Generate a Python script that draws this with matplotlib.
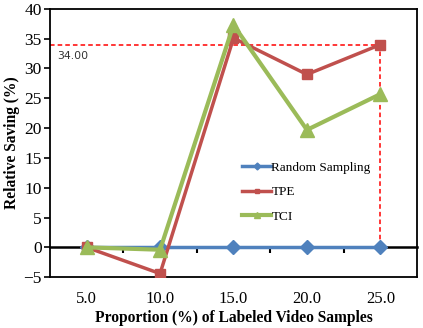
import matplotlib
matplotlib.use("Agg")
from matplotlib import pyplot as plt

# data
proportions = ["5.0", "10.0", "15.0", "20.0", "25.0"]
random_sampling = [0, 0, 0, 0, 0]
tpe = [0, -4.4, 35.1, 29.0, 34.0]
tci = [0, -0.4, 37.3, 19.7, 25.7]
ref_value = 34.0

plt.rcParams['font.family'] = ['Liberation Serif', 'DejaVu Serif']

fig = plt.figure(figsize=(4.23, 3.28), dpi=100)
ax = fig.add_axes([0.118, 0.155, 0.868, 0.818])

x = [i + 0.5 for i in range(len(proportions))]

# dashed reference lines for the TPE value at 25%
ax.plot([0, x[-1]], [ref_value, ref_value], color='red', ls=(0, (3, 2)), lw=1.1, zorder=1.5)
ax.plot([x[-1], x[-1]], [0, ref_value], color='red', ls=(0, (3, 2)), lw=1.1, zorder=1.5)
ax.text(0.1, ref_value - 1.0, "%.2f" % ref_value, fontsize=7.8, family='DejaVu Sans',
        color='#333333', va='top', ha='left')

ax.plot(x, random_sampling, color='#4F81BD', lw=2.5, marker='D', ms=7, label='Random Sampling', zorder=3)
ax.plot(x, tpe, color='#C0504D', lw=2.5, marker='s', ms=7, label='TPE', zorder=3)
ax.plot(x, tci, color='#9BBB59', lw=3, marker='^', ms=10, label='TCI', zorder=3)

ax.set_xlim(0, 5)
ax.set_ylim(-5, 40)
ax.set_yticks(range(-5, 41, 5))
ax.set_xticks(x)
ax.set_xticklabels(proportions)
ax.tick_params(axis='x', length=0, pad=10, labelsize=12)
ax.tick_params(axis='y', direction='out', length=4, width=1.2, labelsize=12.5, pad=2)

for s in ax.spines.values():
    s.set_linewidth(1.3)

# category axis drawn at y=0 with ticks between categories
zero_ax = ax.secondary_xaxis(5 / 45)
zero_ax.set_xticks([1, 2, 3, 4])
zero_ax.set_xticklabels([])
zero_ax.tick_params(direction='out', length=4, width=1.5)
zero_ax.spines['bottom'].set_linewidth(1.8)

ax.set_xlabel("Proportion (%) of Labeled Video Samples", fontsize=11.2, fontweight='bold', labelpad=2)
ax.set_ylabel("Relative Saving (%)", fontsize=11.2, fontweight='bold', labelpad=2)

ax.legend(loc='upper left', bbox_to_anchor=(0.51, 0.45), frameon=False, fontsize=9.5,
          handlelength=2.2, handletextpad=0.0, labelspacing=0.92, markerscale=0.5,
          borderaxespad=0)

fig.savefig("out.png", dpi=100)
